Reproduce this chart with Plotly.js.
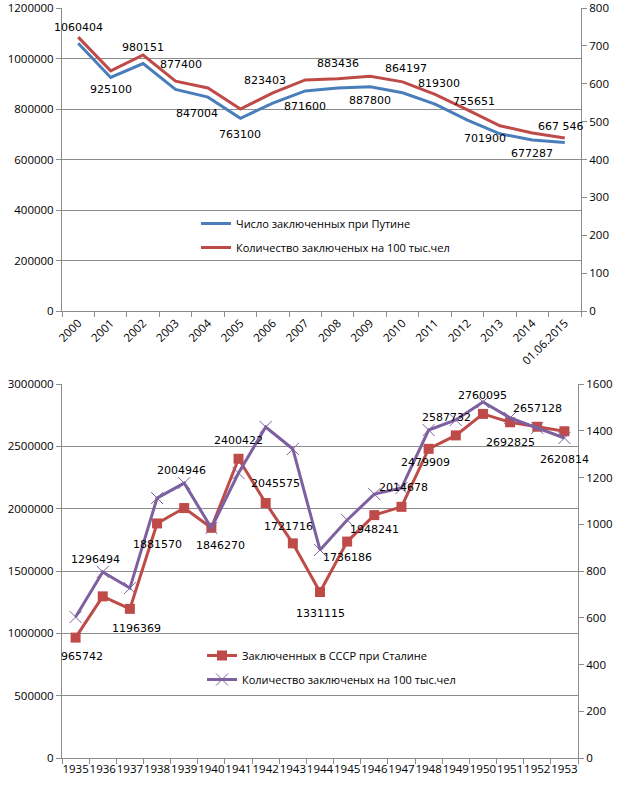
<!DOCTYPE html>
<html>
<head>
<meta charset="utf-8">
<script src="https://cdn.plot.ly/plotly-3.0.1.min.js"></script>
<style>html,body{margin:0;padding:0;background:#fff;}#chart{width:628px;height:785px;}</style>
</head>
<body>
<div id="chart"></div>
<script>
// ---- Data ----
const putinYears = ['2000','2001','2002','2003','2004','2005','2006','2007','2008','2009','2010','2011','2012','2013','2014','01.06.2015'];
const putinPrisoners = [1060404, 925100, 980151, 877400, 847004, 763100, 823403, 871600, 883436, 887800, 864197, 819300, 755651, 701900, 677287, 667546];
const putinPer100k = [723, 634, 676, 607, 589, 533, 576, 610, 613, 620, 605, 572, 531, 489, 470, 457];
const putinLabels = ['1060404','925100','980151','877400','847004','763100','823403','871600','883436','887800','864197','819300','755651','701900','677287','667 546'];

const stalinYears = ['1935','1936','1937','1938','1939','1940','1941','1942','1943','1944','1945','1946','1947','1948','1949','1950','1951','1952','1953'];
const stalinPrisoners = [965742, 1296494, 1196369, 1881570, 2004946, 1846270, 2400422, 2045575, 1721716, 1331115, 1736186, 1948241, 2014678, 2479909, 2587732, 2760095, 2692825, 2657128, 2620814];
const stalinPer100k = [603, 796, 727, 1112, 1176, 984, 1219, 1416, 1322, 890, 1018, 1129, 1155, 1403, 1446, 1523, 1455, 1412, 1369];

const putinLegend = ['Число заключенных при Путине', 'Количество заключеных на 100 тыс.чел'];
const stalinLegend = ['Заключенных в СССР при Сталине', 'Количество заключеных на 100 тыс.чел'];

// ---- Style ----
const W = 628, H = 785;
const BLUE = '#4a7ebb', RED = '#be4b48', PURPLE = '#7d60a0', GRID = '#8c8c8c';
const tickFont = {family: 'Open Sans, sans-serif', size: 11.5, color: '#000'};
const labelFont = {family: 'DejaVu Sans, sans-serif', size: 11, color: '#000'};
const legendFont = {family: 'Open Sans, sans-serif', size: 11, color: '#000'};

// label offsets (px) relative to the labelled point
const topDx = [0, 0, 0, 5, -11, 0, -8, 0, 0, 0, 3, 4, 7, -15, 0, -4];
const topDy = [16, -12, 16, 25, -16, -16, 23, -16, 24, -14, 24, 21, 19, -5, -14, 16];
const botDx = [6, -7, 7, 0, -3, 9, 0, 10, -4, 0, 0, 0, 2, -3, -9, 0, 0, 0, 0];
const botDy = [-19, 37, -20, -21, 38, -18, 18, 19, 17, -21, -16, -14, 19, -14, 18, 18, -20, 18, -28];

function px(a, b, total) { return [a / total, b / total]; }

const traces = [
  {x: putinYears, y: putinPrisoners, name: putinLegend[0], type: 'scatter', mode: 'lines',
   line: {color: BLUE, width: 3}, xaxis: 'x', yaxis: 'y', legend: 'legend', legendgroup: 'a', hoverinfo: 'skip'},
  {x: putinYears, y: putinPer100k, name: putinLegend[1], type: 'scatter', mode: 'lines',
   line: {color: RED, width: 3}, xaxis: 'x', yaxis: 'y2', legend: 'legend', legendgroup: 'b', hoverinfo: 'skip'},
  {x: stalinYears, y: stalinPrisoners, name: stalinLegend[0], type: 'scatter', mode: 'lines+markers',
   line: {color: RED, width: 3}, marker: {symbol: 'square', size: 10, color: RED},
   xaxis: 'x2', yaxis: 'y3', legend: 'legend2', legendgroup: 'c', hoverinfo: 'skip'},
  {x: stalinYears, y: stalinPer100k, name: stalinLegend[1], type: 'scatter', mode: 'lines+markers',
   line: {color: PURPLE, width: 3}, marker: {symbol: 'x-thin-open', size: 12, line: {color: PURPLE, width: 1}},
   xaxis: 'x2', yaxis: 'y4', legend: 'legend2', legendgroup: 'd', hoverinfo: 'skip'}
];

// annotations on category axes are placed by category index
const annotations = [];
putinYears.forEach((c, i) => annotations.push({
  xref: 'x', yref: 'y', x: i, y: putinPrisoners[i], text: putinLabels[i], showarrow: false,
  xshift: topDx[i], yshift: topDy[i], font: labelFont
}));
stalinYears.forEach((c, i) => annotations.push({
  xref: 'x2', yref: 'y3', x: i, y: stalinPrisoners[i], text: String(stalinPrisoners[i]), showarrow: false,
  xshift: botDx[i], yshift: botDy[i], font: labelFont
}));

const catAxis = {type: 'category', showgrid: false, showline: true, linecolor: GRID, linewidth: 1,
  ticks: 'outside', ticklen: 5, tickcolor: GRID, tickson: 'boundaries', tickfont: tickFont, zeroline: false, fixedrange: true};
const valAxis = {showgrid: true, gridcolor: GRID, gridwidth: 1, showline: true, linecolor: GRID,
  ticks: 'outside', ticklen: 5, tickcolor: GRID, tickfont: tickFont, zeroline: false, fixedrange: true, tickformat: 'd'};

const layout = {
  width: W, height: H,
  margin: {l: 0, r: 0, t: 0, b: 0},
  paper_bgcolor: '#fff', plot_bgcolor: '#fff',
  showlegend: true,
  xaxis: Object.assign({}, catAxis, {domain: px(62, 581, W), anchor: 'y', tickangle: -45,
    range: [-0.5, putinYears.length - 0.5], autorange: false}),
  yaxis: Object.assign({}, valAxis, {domain: [1 - 311 / H, 1 - 8 / H], range: [0, 1200000], dtick: 200000, tick0: 0, anchor: 'x'}),
  yaxis2: Object.assign({}, valAxis, {overlaying: 'y', side: 'right', showgrid: false, range: [0, 800], dtick: 100, tick0: 0, anchor: 'x'}),
  xaxis2: Object.assign({}, catAxis, {domain: px(62, 578, W), anchor: 'y3', tickangle: 0,
    range: [-0.5, stalinYears.length - 0.5], autorange: false}),
  yaxis3: Object.assign({}, valAxis, {domain: [1 - 758 / H, 1 - 384 / H], range: [0, 3000000], dtick: 500000, tick0: 0, anchor: 'x2'}),
  yaxis4: Object.assign({}, valAxis, {overlaying: 'y3', side: 'right', showgrid: false, range: [0, 1600], dtick: 200, tick0: 0, anchor: 'x2'}),
  legend: {x: 196 / W, y: 1 - 209 / H, xanchor: 'left', yanchor: 'top', bgcolor: 'rgba(0,0,0,0)',
    font: legendFont, traceorder: 'grouped', tracegroupgap: 5, itemwidth: 30},
  legend2: {x: 202 / W, y: 1 - 641 / H, xanchor: 'left', yanchor: 'top', bgcolor: 'rgba(0,0,0,0)',
    font: legendFont, traceorder: 'grouped', tracegroupgap: 5, itemwidth: 30},
  annotations: annotations
};

Plotly.newPlot('chart', traces, layout, {staticPlot: true, displayModeBar: false});
</script>
</body>
</html>
